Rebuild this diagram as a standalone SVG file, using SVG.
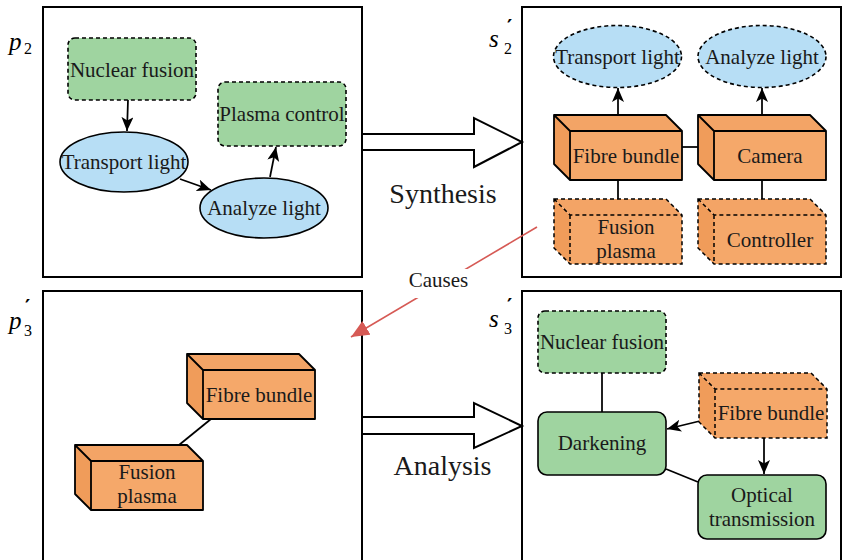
<svg xmlns="http://www.w3.org/2000/svg" xmlns:xlink="http://www.w3.org/1999/xlink" width="843" height="560" viewBox="0 0 843 560">
<style>
.panel{fill:#fff;stroke:#000;stroke-width:2}
.t{font-family:'Liberation Serif','DejaVu Serif','Noto Serif',serif;font-size:21px;fill:#1a1a1a;text-anchor:middle}
.big{font-family:'Liberation Serif','DejaVu Serif','Noto Serif',serif;font-size:28px;fill:#1a1a1a;text-anchor:middle}
.m{font-family:'Liberation Serif','DejaVu Serif','Noto Serif',serif;font-style:italic;font-size:25px;fill:#000}
.sub{font-family:'Liberation Serif','DejaVu Serif','Noto Serif',serif;font-size:16px;fill:#000}
.pr{font-family:'DejaVu Sans','Liberation Sans',sans-serif;font-size:20px;font-weight:bold;fill:#000}
.green{fill:#9fd4a0;stroke:#000;stroke-width:1.6}
.blue{fill:#b7def5;stroke:#000;stroke-width:1.6}
.dash{stroke-dasharray:4 3}
.edge{fill:none;stroke:#000;stroke-width:1.75}
.hollow{fill:#fff;stroke:#000;stroke-width:2}
.front{fill:#f5a86a}
.left{fill:#f09c5a}
.top{fill:#f3a466}
.cl{fill:none;stroke:#000;stroke-width:1.8;stroke-linejoin:round}
.cld{fill:none;stroke:#000;stroke-width:1.5;stroke-dasharray:4 3}
</style>
<defs>
<marker id="arr" markerUnits="userSpaceOnUse" markerWidth="15" markerHeight="13" refX="14" refY="6" orient="auto">
<path d="M0,0 L14,6 L0,12 L3.5,6 Z" fill="#000"/>
</marker>
<marker id="redarr" markerUnits="userSpaceOnUse" markerWidth="20" markerHeight="18" refX="18" refY="8" orient="auto">
<path d="M0,0 L18,8 L0,16 Z" fill="#d65a55"/>
</marker>
<g id="cube">
<path class="left" d="M0,0 L16,16 L16,65 L0,49 Z"/>
<path class="top" d="M0,0 L112,0 L128,16 L16,16 Z"/>
<rect class="front" x="16" y="16" width="112" height="49"/>
<path class="cl" d="M0,0 L112,0 L128,16 L128,65 L16,65 L0,49 Z M0,0 L16,16 L128,16 M16,16 L16,65"/>
</g>
<g id="cubeD">
<path class="left" d="M0,0 L16,16 L16,65 L0,49 Z"/>
<path class="top" d="M0,0 L112,0 L128,16 L16,16 Z"/>
<rect class="front" x="16" y="16" width="112" height="49"/>
<path class="cld" d="M0,0 L112,0 L128,16 L128,65 L16,65 L0,49 Z M0,0 L16,16 L128,16 M16,16 L16,65"/>
</g>
</defs>

<rect width="843" height="560" fill="#fff"/>

<!-- panels -->
<g id="panels">
<rect class="panel" x="43" y="7" width="319" height="270"/>
<rect class="panel" x="522" y="7" width="319" height="270"/>
<rect class="panel" x="43" y="291" width="319" height="300"/>
<rect class="panel" x="522" y="291" width="319" height="300"/>
</g>

<!-- panel labels -->
<g id="labels">
<text class="m" x="9" y="50">p</text><text class="sub" x="24" y="54">2</text>
<text class="m" x="489" y="47">s</text><text class="pr" x="507" y="33">′</text><text class="sub" x="504" y="54">2</text>
<text class="m" x="9" y="329">p</text><text class="pr" x="25" y="313">′</text><text class="sub" x="24" y="336">3</text>
<text class="m" x="489" y="327">s</text><text class="pr" x="507" y="312">′</text><text class="sub" x="504" y="334">3</text>
</g>

<!-- connectors -->
<g id="connectors">
<line class="edge" x1="128" y1="100" x2="127" y2="131" marker-end="url(#arr)"/>
<line class="edge" x1="180" y1="179" x2="211" y2="190" marker-end="url(#arr)"/>
<line class="edge" x1="270" y1="177" x2="276" y2="147" marker-end="url(#arr)"/>
<line class="edge" x1="618" y1="115" x2="618" y2="88" marker-end="url(#arr)"/>
<line class="edge" x1="762" y1="115" x2="762" y2="88" marker-end="url(#arr)"/>
<line class="edge" x1="682" y1="147" x2="698" y2="147"/>
<line class="edge" x1="618" y1="180" x2="618" y2="199"/>
<line class="edge" x1="762" y1="180" x2="762" y2="199"/>
<line class="edge" x1="211" y1="419" x2="179" y2="445"/>
<line class="edge" x1="602" y1="373" x2="602" y2="412"/>
<line class="edge" x1="700" y1="421" x2="667" y2="429" marker-end="url(#arr)"/>
<line class="edge" x1="764" y1="437" x2="764" y2="474" marker-end="url(#arr)"/>
<line class="edge" x1="666" y1="469" x2="698" y2="482"/>
<polygon class="hollow" points="362,134 474,134 474,118 522,142 474,167 474,150 362,150"/>
<polygon class="hollow" points="362,417 474,417 474,403 522,426 474,448 474,434 362,434"/>
<line x1="537" y1="227" x2="351" y2="337" stroke="#d65a55" stroke-width="1.6" marker-end="url(#redarr)"/>
<rect x="406" y="269" width="65" height="29" fill="#fff"/>
<text class="t" x="438.5" y="287">Causes</text>
<text class="big" x="443" y="203">Synthesis</text>
<text class="big" x="442.5" y="475">Analysis</text>
</g>

<!-- p2 nodes -->
<g id="p2-nuclear-fusion">
<rect class="green dash" x="68" y="38" width="128" height="62" rx="7"/>
<text class="t" x="132" y="77">Nuclear fusion</text>
</g>
<g id="p2-transport-light">
<ellipse class="blue" cx="124" cy="162" rx="64" ry="30"/>
<text class="t" x="124" y="169">Transport light</text>
</g>
<g id="p2-analyze-light">
<ellipse class="blue" cx="264" cy="208" rx="64" ry="30"/>
<text class="t" x="264" y="215">Analyze light</text>
</g>
<g id="p2-plasma-control">
<rect class="green dash" x="218" y="82" width="128" height="64" rx="7"/>
<text class="t" x="282" y="121">Plasma control</text>
</g>

<!-- s2' nodes -->
<g id="s2-transport-light">
<ellipse class="blue dash" cx="617.5" cy="56.5" rx="64" ry="31"/>
<text class="t" x="617.5" y="64">Transport light</text>
</g>
<g id="s2-analyze-light">
<ellipse class="blue dash" cx="762" cy="56.5" rx="64" ry="31"/>
<text class="t" x="762" y="64">Analyze light</text>
</g>
<g id="s2-fibre-bundle">
<use xlink:href="#cube" x="554" y="115"/>
<text class="t" x="626" y="163">Fibre bundle</text>
</g>
<g id="s2-camera">
<use xlink:href="#cube" x="698" y="115"/>
<text class="t" x="770" y="163">Camera</text>
</g>
<g id="s2-fusion-plasma">
<use xlink:href="#cubeD" x="554" y="199"/>
<text class="t" x="626" y="234">Fusion</text>
<text class="t" x="626" y="258">plasma</text>
</g>
<g id="s2-controller">
<use xlink:href="#cubeD" x="698" y="199"/>
<text class="t" x="770" y="247">Controller</text>
</g>

<!-- p3' nodes -->
<g id="p3-fibre-bundle">
<use xlink:href="#cube" x="187" y="354"/>
<text class="t" x="259" y="402">Fibre bundle</text>
</g>
<g id="p3-fusion-plasma">
<use xlink:href="#cube" x="75" y="445"/>
<text class="t" x="147" y="479">Fusion</text>
<text class="t" x="147" y="503">plasma</text>
</g>

<!-- s3' nodes -->
<g id="s3-nuclear-fusion">
<rect class="green dash" x="538" y="311" width="128" height="62" rx="7"/>
<text class="t" x="602" y="349">Nuclear fusion</text>
</g>
<g id="s3-darkening">
<rect class="green" x="538" y="412" width="128" height="63" rx="9"/>
<text class="t" x="602" y="450">Darkening</text>
</g>
<g id="s3-fibre-bundle">
<use xlink:href="#cubeD" x="699" y="373"/>
<text class="t" x="771" y="420">Fibre bundle</text>
</g>
<g id="s3-optical-transmission">
<rect class="green" x="698" y="475" width="128" height="64" rx="9"/>
<text class="t" x="762" y="502">Optical</text>
<text class="t" x="762" y="526">transmission</text>
</g>
</svg>
